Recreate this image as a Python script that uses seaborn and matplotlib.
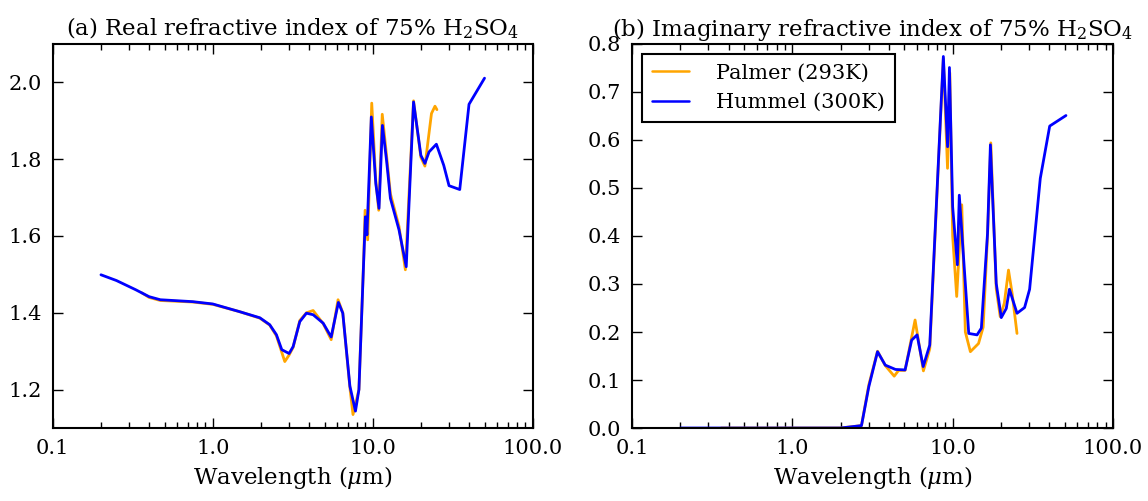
import numpy as np
import pandas as pd
import matplotlib
matplotlib.use("Agg")
import matplotlib.pyplot as plt
import seaborn as sns

# ---- Real part of refractive index, 75% H2SO4 ----
hummel_wl_n = [0.2, 0.25, 0.33, 0.4, 0.47, 0.75, 1.0, 1.47, 1.97, 2.27, 2.5, 2.7,
               3.0, 3.18, 3.5, 3.85, 4.24, 4.9, 5.5, 6.1, 6.5, 7.2, 7.8, 8.2, 8.8,
               9.0, 9.2, 9.8, 10.45, 10.95, 11.5, 12.2, 12.9, 14.6, 16.2, 18.0,
               20.0, 21.2, 22.5, 25.0, 27.8, 30.0, 35.0, 40.0, 50.0]
hummel_n = [1.499, 1.484, 1.46, 1.442, 1.434, 1.429, 1.423, 1.403, 1.387, 1.369,
            1.343, 1.304, 1.294, 1.312, 1.377, 1.399, 1.395, 1.373, 1.337, 1.427,
            1.399, 1.209, 1.144, 1.2, 1.546, 1.65, 1.603, 1.91, 1.737, 1.672,
            1.888, 1.797, 1.698, 1.616, 1.52, 1.949, 1.81, 1.789, 1.819, 1.839,
            1.784, 1.731, 1.721, 1.943, 2.011]

palmer_wl_n = [0.36, 0.4, 0.47, 0.75, 1.0, 1.47, 1.97, 2.27, 2.5, 2.82, 3.0, 3.18,
               3.5, 3.85, 4.24, 4.9, 5.5, 6.07, 6.5, 7.2, 7.53, 8.2, 8.8, 8.96,
               9.3, 9.86, 10.45, 10.9, 11.47, 12.2, 12.9, 14.6, 16.0, 18.0, 20.0,
               21.2, 23.3, 24.5, 25.2]
palmer_n = [1.452, 1.440, 1.432, 1.428, 1.422, 1.403, 1.386, 1.368, 1.34, 1.273,
            1.29, 1.31, 1.38, 1.40, 1.406, 1.372, 1.33, 1.434, 1.40, 1.205, 1.135,
            1.2, 1.55, 1.667, 1.59, 1.946, 1.745, 1.667, 1.917, 1.81, 1.71, 1.625,
            1.512, 1.952, 1.805, 1.782, 1.919, 1.938, 1.929]

# ---- Imaginary part of refractive index, 75% H2SO4 ----
hummel_wl_k = [0.2, 1.0, 2.0, 2.7, 3.0, 3.4, 3.8, 4.4, 5.05, 5.55, 6.0, 6.55, 7.2,
               8.75, 9.3, 9.55, 10.0, 10.7, 11.0, 12.6, 14.2, 15.1, 16.5, 17.2,
               18.7, 20.1, 21.6, 22.6, 25.2, 28.1, 30.2, 35.2, 40.3, 50.9]
hummel_k = [0.0, 0.0, 0.0, 0.005, 0.086, 0.159, 0.131, 0.122, 0.121, 0.183, 0.194,
            0.128, 0.173, 0.774, 0.586, 0.751, 0.461, 0.34, 0.485, 0.197, 0.194,
            0.208, 0.405, 0.59, 0.301, 0.23, 0.249, 0.289, 0.239, 0.251, 0.289,
            0.52, 0.629, 0.651]

palmer_wl_k = [0.36, 1.0, 2.0, 2.7, 3.0, 3.4, 3.8, 4.32, 4.6, 5.05, 5.83, 6.57,
               7.2, 8.75, 9.29, 9.6, 10.0, 10.6, 11.4, 12.0, 12.9, 14.5, 15.5,
               16.5, 17.3, 18.7, 19.8, 21.0, 22.3, 23.5, 25.2]
palmer_k = [0.0, 0.0, 0.0, 0.005, 0.09, 0.16, 0.13, 0.108, 0.12, 0.12, 0.225,
            0.119, 0.165, 0.77, 0.541, 0.74, 0.4, 0.274, 0.465, 0.2, 0.159, 0.176,
            0.21, 0.4, 0.594, 0.29, 0.232, 0.26, 0.329, 0.28, 0.197]

series_names = ["Palmer (293K)", "Hummel (300K)"]
series_colors = ["orange", "blue"]
xtick_vals = [0.1, 1.0, 10.0, 100.0]
xtick_labels = ["0.1", "1.0", "10.0", "100.0"]
titles = [r"(a) Real refractive index of 75% H$_2$SO$_4$",
          r"(b) Imaginary refractive index of 75% H$_2$SO$_4$"]
xlabel = r"Wavelength ($\mu$m)"


def frame(wl, vals, name):
    return pd.DataFrame({"wl": wl, "val": vals, "source": name})


real_df = pd.concat([frame(palmer_wl_n, palmer_n, series_names[0]),
                     frame(hummel_wl_n, hummel_n, series_names[1])])
imag_df = pd.concat([frame(palmer_wl_k, palmer_k, series_names[0]),
                     frame(hummel_wl_k, hummel_k, series_names[1])])

sns.set_style("ticks")
plt.rcParams["font.family"] = ["DejaVu Serif"]
plt.rcParams["mathtext.fontset"] = "dejavuserif"
for key in ["text.color", "axes.labelcolor", "xtick.color", "ytick.color",
            "axes.edgecolor"]:
    plt.rcParams[key] = "black"
plt.rcParams["xtick.direction"] = "in"
plt.rcParams["ytick.direction"] = "in"

fig = plt.figure(figsize=(11.48, 5.01), dpi=100)
ax1 = fig.add_axes([0.046, 0.1457, 0.418, 0.7665])
ax2 = fig.add_axes([0.5505, 0.1457, 0.419, 0.7665])

palette = dict(zip(series_names, series_colors))
for ax, df in [(ax1, real_df), (ax2, imag_df)]:
    sns.lineplot(data=df, x="wl", y="val", hue="source", palette=palette,
                 hue_order=series_names, sort=False, estimator=None,
                 linewidth=2.0, ax=ax, legend=(ax is ax2))
    ax.set_xscale("log")
    ax.set_xlim(0.1, 100)
    ax.set_xticks(xtick_vals, labels=xtick_labels)
    ax.set_xlabel(xlabel, fontsize=16.5)
    ax.set_ylabel("")
    ax.tick_params(which="both", top=True, right=True, direction="in",
                   labelsize=15, pad=8)
    ax.tick_params(which="major", length=7, width=1)
    ax.tick_params(which="minor", length=4, width=1)
    for sp in ax.spines.values():
        sp.set_linewidth(1.5)
        sp.set_color("black")

ax1.set_ylim(1.1, 2.1)
ax1.set_yticks([1.2, 1.4, 1.6, 1.8, 2.0])
ax2.set_ylim(0.0, 0.8)
ax2.set_yticks(np.arange(0, 0.81, 0.1))
ax1.set_title(titles[0], fontsize=16.5)
ax2.set_title(titles[1], fontsize=16.5)

leg = ax2.legend(loc="upper left", fancybox=False, framealpha=1,
                 edgecolor="black", fontsize=15, handlelength=1.8,
                 borderpad=0.45, handletextpad=1.3)
leg.get_frame().set_linewidth(1.5)
for h in leg.get_lines():
    h.set_linewidth(1.8)

fig.savefig("out.png", dpi=100)
